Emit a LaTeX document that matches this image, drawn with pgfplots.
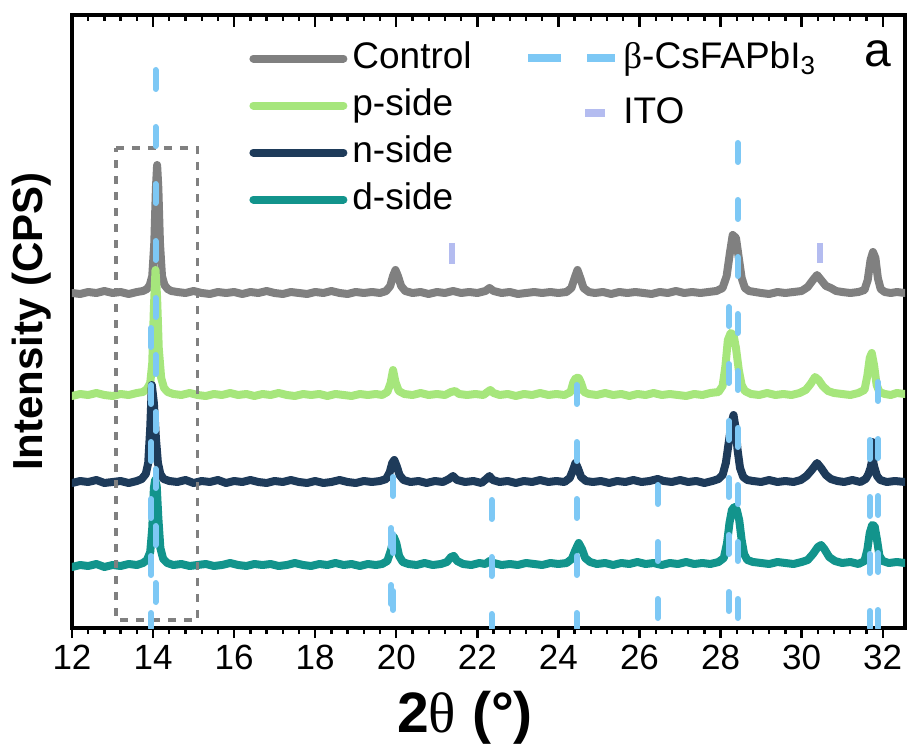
\documentclass[border=0pt]{standalone}
\usepackage{pgfplots}
\pgfplotsset{compat=1.18}
\usepackage{fontspec}
\setmainfont{Liberation Sans}
\newfontfamily\serifgreek{Liberation Serif}
\definecolor{ctrl}{HTML}{808080}
\definecolor{pside}{HTML}{A6E67C}
\definecolor{nside}{HTML}{1E3B5A}
\definecolor{dside}{HTML}{12948C}
\definecolor{betac}{HTML}{7DC8F5}
\definecolor{itoc}{HTML}{B4BCF0}
\pgfplotsset{
  stick/.style={betac, line width=3pt, line cap=round, dash pattern=on 9.5pt off 19pt, forget plot},
  trace/.style={line width=4pt, line join=round, line cap=round},
}
\begin{document}
\begin{tikzpicture}
\path[use as bounding box] (-36pt,-58pt) rectangle (421pt,314pt);
\begin{axis}[
  at={(0pt,0pt)}, anchor=south west,
  scale only axis, width=416.5pt, height=306.5pt,
  xmin=12, xmax=32.55, ymin=0, ymax=613,
  axis line style={line width=1.75pt},
  xtick={12,14,...,32}, minor x tick num=4,
  xtick pos=bottom, tick align=outside,
  ytick=\empty,
  major tick length=5pt, minor tick length=3pt,
  tick style={black, line width=1.2pt},
  /pgf/number format/assume math mode=true,
  xticklabel style={font=\fontsize{17.5}{20}\selectfont},
  xlabel={\bfseries 2{\serifgreek\mdseries θ} (°)},
  xlabel style={font=\fontsize{28.5}{34}\selectfont, at={([yshift=-52pt]axis description cs:0.4718,0)}, anchor=base},
  ylabel={\bfseries Intensity (CPS)},
  ylabel style={font=\fontsize{21}{25}\selectfont, at={([xshift=-14.5pt]axis description cs:0,0.5)}, anchor=base},
  legend style={draw=none, fill=none, at={(0.2125,0.968)}, anchor=north west, inner sep=0pt,
    font=\fontsize{18.5}{22}\selectfont, nodes={inner xsep=2.5pt, inner ysep=3pt, text height=13.5pt, text depth=4pt}},
  legend cell align=left,
  legend image code/.code={\draw[#1, line width=4pt, line cap=round] (0pt,0pt) -- (45pt,0pt);},
]
\addplot[ctrl, trace] table[row sep=\\] {x y\\
12.0 335\\ 12.2 334\\ 12.4 336\\ 12.6 335\\ 12.8 337\\ 13.0 335\\ 13.2 336\\ 13.4 334\\ 13.6 336\\ 13.75 337\\ 13.85 339\\ 13.92 343\\ 13.98 352\\ 14.03 385\\ 14.07 440\\ 14.1 463\\ 14.13 440\\ 14.17 385\\ 14.22 352\\ 14.28 343\\ 14.36 339\\ 14.45 337\\ 14.6 336\\ 14.8 335\\ 15.0 337\\ 15.2 335\\ 15.4 334\\ 15.6 336\\ 15.8 335\\ 16.0 336\\ 16.2 334\\ 16.4 336\\ 16.6 335\\ 16.8 337\\ 17.0 335\\ 17.2 334\\ 17.4 336\\ 17.6 335\\ 17.8 334\\ 18.0 336\\ 18.2 335\\ 18.4 337\\ 18.6 335\\ 18.8 334\\ 19.0 336\\ 19.2 335\\ 19.4 336\\ 19.6 335\\ 19.75 337\\ 19.85 342\\ 19.92 352\\ 19.98 358\\ 20.04 352\\ 20.12 342\\ 20.22 337\\ 20.4 335\\ 20.6 336\\ 20.8 334\\ 21.0 336\\ 21.2 335\\ 21.4 337\\ 21.6 335\\ 21.8 336\\ 22.0 335\\ 22.2 337\\ 22.3 340\\ 22.4 337\\ 22.6 335\\ 22.8 336\\ 23.0 334\\ 23.2 335\\ 23.4 336\\ 23.6 335\\ 23.8 336\\ 24.0 335\\ 24.2 336\\ 24.32 340\\ 24.4 350\\ 24.47 358\\ 24.54 350\\ 24.62 340\\ 24.75 336\\ 24.9 335\\ 25.1 336\\ 25.3 334\\ 25.5 336\\ 25.7 335\\ 25.9 336\\ 26.1 335\\ 26.3 334\\ 26.5 336\\ 26.7 335\\ 26.9 337\\ 27.1 335\\ 27.3 336\\ 27.5 335\\ 27.7 336\\ 27.9 337\\ 28.05 340\\ 28.15 352\\ 28.23 375\\ 28.3 393\\ 28.38 390\\ 28.45 370\\ 28.52 350\\ 28.6 340\\ 28.7 337\\ 28.85 336\\ 29.0 335\\ 29.2 334\\ 29.4 336\\ 29.6 335\\ 29.8 336\\ 30.0 337\\ 30.15 341\\ 30.28 348\\ 30.38 353\\ 30.48 348\\ 30.6 342\\ 30.72 340\\ 30.85 337\\ 31.0 336\\ 31.2 335\\ 31.4 336\\ 31.55 338\\ 31.63 348\\ 31.7 368\\ 31.76 376\\ 31.82 370\\ 31.88 350\\ 31.95 339\\ 32.05 336\\ 32.2 335\\ 32.35 336\\ 32.55 335\\
};
\addlegendentry{Control}
\addplot[pside, trace] table[row sep=\\] {x y\\
12.0 232\\ 12.2 234\\ 12.4 233\\ 12.6 235\\ 12.8 233\\ 13.0 232\\ 13.2 234\\ 13.4 233\\ 13.6 235\\ 13.75 236\\ 13.85 239\\ 13.93 245\\ 13.98 265\\ 14.02 320\\ 14.06 358\\ 14.1 330\\ 14.14 280\\ 14.2 250\\ 14.27 240\\ 14.36 236\\ 14.5 234\\ 14.7 233\\ 14.9 235\\ 15.1 233\\ 15.3 232\\ 15.5 234\\ 15.7 233\\ 15.9 235\\ 16.1 233\\ 16.3 234\\ 16.5 232\\ 16.7 234\\ 16.9 233\\ 17.1 235\\ 17.3 233\\ 17.5 232\\ 17.7 234\\ 17.9 233\\ 18.1 234\\ 18.3 232\\ 18.5 234\\ 18.7 233\\ 18.9 232\\ 19.1 234\\ 19.3 233\\ 19.5 234\\ 19.65 233\\ 19.78 236\\ 19.86 245\\ 19.92 258\\ 19.98 246\\ 20.06 237\\ 20.2 234\\ 20.4 233\\ 20.6 235\\ 20.8 233\\ 21.0 234\\ 21.2 233\\ 21.35 236\\ 21.45 237\\ 21.55 234\\ 21.75 233\\ 21.95 234\\ 22.15 233\\ 22.25 236\\ 22.32 238\\ 22.4 235\\ 22.55 233\\ 22.75 234\\ 22.95 232\\ 23.15 234\\ 23.35 233\\ 23.55 235\\ 23.75 233\\ 23.95 234\\ 24.15 233\\ 24.3 236\\ 24.37 246\\ 24.43 250\\ 24.5 250\\ 24.56 245\\ 24.63 236\\ 24.75 234\\ 24.95 233\\ 25.15 235\\ 25.35 233\\ 25.55 234\\ 25.75 232\\ 25.95 234\\ 26.15 233\\ 26.35 235\\ 26.55 233\\ 26.75 234\\ 26.95 233\\ 27.15 232\\ 27.35 234\\ 27.55 233\\ 27.75 235\\ 27.95 236\\ 28.05 242\\ 28.12 262\\ 28.18 288\\ 28.25 295\\ 28.32 293\\ 28.38 280\\ 28.45 258\\ 28.52 243\\ 28.6 237\\ 28.75 234\\ 28.95 233\\ 29.15 235\\ 29.35 233\\ 29.55 234\\ 29.75 233\\ 29.95 235\\ 30.1 238\\ 30.22 244\\ 30.33 251\\ 30.42 248\\ 30.52 242\\ 30.65 237\\ 30.8 235\\ 31.0 234\\ 31.2 233\\ 31.4 235\\ 31.55 238\\ 31.62 252\\ 31.68 270\\ 31.73 275\\ 31.79 262\\ 31.85 243\\ 31.92 236\\ 32.05 234\\ 32.2 233\\ 32.35 235\\ 32.55 234\\
};
\addlegendentry{p-side}
\addplot[nside, trace] table[row sep=\\] {x y\\
12.0 145\\ 12.2 147\\ 12.4 146\\ 12.6 148\\ 12.8 145\\ 13.0 146\\ 13.2 147\\ 13.4 145\\ 13.6 147\\ 13.72 149\\ 13.82 154\\ 13.88 165\\ 13.93 200\\ 13.97 243\\ 14.02 225\\ 14.07 190\\ 14.12 165\\ 14.18 154\\ 14.26 149\\ 14.4 147\\ 14.6 146\\ 14.8 148\\ 15.0 145\\ 15.2 147\\ 15.4 146\\ 15.6 148\\ 15.8 145\\ 16.0 147\\ 16.2 146\\ 16.4 148\\ 16.6 146\\ 16.8 145\\ 17.0 147\\ 17.2 146\\ 17.4 148\\ 17.6 146\\ 17.8 145\\ 18.0 147\\ 18.2 145\\ 18.4 146\\ 18.6 148\\ 18.8 146\\ 19.0 145\\ 19.2 147\\ 19.4 146\\ 19.6 147\\ 19.75 149\\ 19.84 156\\ 19.9 165\\ 19.95 168\\ 20.01 162\\ 20.08 153\\ 20.18 148\\ 20.35 146\\ 20.55 147\\ 20.75 145\\ 20.95 147\\ 21.15 146\\ 21.3 149\\ 21.4 152\\ 21.5 148\\ 21.7 146\\ 21.9 147\\ 22.1 145\\ 22.22 149\\ 22.3 152\\ 22.38 148\\ 22.55 146\\ 22.75 147\\ 22.95 145\\ 23.15 147\\ 23.35 146\\ 23.55 148\\ 23.75 146\\ 23.95 147\\ 24.15 146\\ 24.28 150\\ 24.36 158\\ 24.42 165\\ 24.48 160\\ 24.56 151\\ 24.68 147\\ 24.85 146\\ 25.05 147\\ 25.25 145\\ 25.45 147\\ 25.65 146\\ 25.85 148\\ 26.05 146\\ 26.25 147\\ 26.45 149\\ 26.6 147\\ 26.8 146\\ 27.0 148\\ 27.2 146\\ 27.4 147\\ 27.6 145\\ 27.8 147\\ 27.95 149\\ 28.05 153\\ 28.13 165\\ 28.2 185\\ 28.27 205\\ 28.32 213\\ 28.37 200\\ 28.42 178\\ 28.48 160\\ 28.56 151\\ 28.66 148\\ 28.8 147\\ 29.0 146\\ 29.2 148\\ 29.4 146\\ 29.6 147\\ 29.8 146\\ 29.98 148\\ 30.12 152\\ 30.25 158\\ 30.38 165\\ 30.48 160\\ 30.6 153\\ 30.72 149\\ 30.88 147\\ 31.05 146\\ 31.25 148\\ 31.45 146\\ 31.58 149\\ 31.65 154\\ 31.7 160\\ 31.73 166\\ 31.75 186\\ 31.77 165\\ 31.8 160\\ 31.86 152\\ 31.94 148\\ 32.1 146\\ 32.3 147\\ 32.55 146\\
};
\addlegendentry{n-side}
\addplot[dside, trace] table[row sep=\\] {x y\\
12.0 61\\ 12.2 63\\ 12.4 62\\ 12.6 64\\ 12.8 61\\ 13.0 63\\ 13.2 62\\ 13.4 64\\ 13.6 63\\ 13.75 65\\ 13.85 68\\ 13.93 76\\ 13.98 100\\ 14.02 140\\ 14.05 148\\ 14.09 142\\ 14.13 110\\ 14.18 80\\ 14.25 69\\ 14.35 65\\ 14.5 63\\ 14.7 64\\ 14.9 62\\ 15.1 63\\ 15.3 64\\ 15.5 62\\ 15.7 63\\ 15.9 65\\ 16.1 63\\ 16.3 62\\ 16.5 64\\ 16.7 63\\ 16.9 64\\ 17.1 62\\ 17.3 63\\ 17.5 65\\ 17.7 63\\ 17.9 62\\ 18.1 64\\ 18.3 63\\ 18.5 65\\ 18.7 63\\ 18.9 64\\ 19.1 62\\ 19.3 64\\ 19.5 63\\ 19.65 64\\ 19.78 67\\ 19.87 78\\ 19.94 91\\ 20.0 85\\ 20.07 72\\ 20.16 66\\ 20.3 64\\ 20.5 63\\ 20.7 65\\ 20.9 63\\ 21.1 64\\ 21.25 66\\ 21.35 71\\ 21.42 72\\ 21.5 67\\ 21.65 64\\ 21.85 63\\ 22.05 65\\ 22.2 64\\ 22.3 67\\ 22.4 65\\ 22.6 63\\ 22.8 64\\ 23.0 63\\ 23.2 65\\ 23.4 64\\ 23.6 63\\ 23.8 65\\ 24.0 64\\ 24.2 65\\ 24.33 69\\ 24.42 78\\ 24.5 85\\ 24.58 79\\ 24.66 70\\ 24.78 66\\ 24.95 64\\ 25.15 65\\ 25.35 63\\ 25.55 65\\ 25.75 64\\ 25.95 66\\ 26.15 64\\ 26.35 65\\ 26.55 63\\ 26.75 65\\ 26.95 64\\ 27.15 66\\ 27.35 64\\ 27.55 65\\ 27.75 64\\ 27.95 66\\ 28.08 70\\ 28.16 85\\ 28.22 105\\ 28.28 118\\ 28.34 121\\ 28.4 118\\ 28.46 108\\ 28.52 88\\ 28.58 74\\ 28.66 68\\ 28.8 66\\ 29.0 65\\ 29.2 64\\ 29.4 66\\ 29.6 65\\ 29.8 64\\ 30.0 66\\ 30.15 68\\ 30.28 74\\ 30.4 81\\ 30.48 83\\ 30.56 79\\ 30.68 71\\ 30.82 67\\ 31.0 65\\ 31.2 66\\ 31.4 64\\ 31.55 67\\ 31.62 78\\ 31.68 95\\ 31.74 103\\ 31.8 102\\ 31.86 88\\ 31.92 72\\ 32.0 67\\ 32.15 65\\ 32.35 66\\ 32.55 65\\
};
\addlegendentry{d-side}
% dashed box
\addplot[ctrl, line width=1.75pt, dash pattern=on 4pt off 4pt, forget plot] coordinates {(13.08,480) (15.1,480) (15.1,8) (13.08,8) (13.08,480)};
% beta-CsFAPbI3 reference sticks
\addplot[stick] coordinates {(14.06,558) (14.06,0)};
\addplot[stick] coordinates {(13.95,300) (13.95,0)};
\addplot[stick] coordinates {(19.92,151) (19.92,0)};
\addplot[stick] coordinates {(19.87,100) (19.87,0)};
\addplot[stick] coordinates {(22.35,128) (22.35,0)};
\addplot[stick] coordinates {(24.45,243) (24.45,0)};
\addplot[stick] coordinates {(26.45,143) (26.45,0)};
\addplot[stick] coordinates {(28.2,321) (28.2,0)};
\addplot[stick] coordinates {(28.42,485) (28.42,0)};
\addplot[stick] coordinates {(31.68,188) (31.68,0)};
\addplot[stick] coordinates {(31.88,246) (31.88,0)};
% ITO sticks
\addplot[itoc, line width=3pt, forget plot] coordinates {(21.37,385) (21.37,364)};
\addplot[itoc, line width=3pt, forget plot] coordinates {(30.45,385) (30.45,365)};
\node[font=\fontsize{24}{28}\selectfont] at (axis description cs:0.9676,0.9364) {a};
\end{axis}
\begin{axis}[
  at={(0pt,0pt)}, anchor=south west,
  scale only axis, width=416.5pt, height=306.5pt,
  xmin=12, xmax=32.55, ymin=0, ymax=613,
  axis x line*=top, axis y line=none,
  axis line style={line width=1.75pt, -},
  xtick={12,14,...,32}, minor x tick num=4, xticklabels={},
  tick align=inside,
  major tick length=6pt, minor tick length=3pt,
  tick style={black, line width=1.2pt},
  legend style={draw=none, fill=none, at={(0.5426,0.975)}, anchor=north west, inner sep=0pt,
    font=\fontsize{18.5}{22}\selectfont, nodes={inner xsep=2pt, inner ysep=3pt, text height=16pt, text depth=5.5pt}},
  legend cell align=left,
]
\addlegendimage{legend image code/.code={\path[draw=none] (0pt,0pt) -- (43.5pt,0pt); \draw[betac, line width=4pt] (0pt,0pt) -- (16.5pt,0pt); \draw[betac, line width=4pt] (29.5pt,0pt) -- (43.5pt,0pt);}}
\addlegendentry{{\serifgreek β}-CsFAPbI\textsubscript{3}}
\addlegendimage{legend image code/.code={\path[draw=none] (0pt,0pt) -- (43.5pt,0pt); \draw[itoc, line width=4pt] (28.5pt,0pt) -- (38.5pt,0pt);}}
\addlegendentry{ITO}
\end{axis}
\end{tikzpicture}
\end{document}
